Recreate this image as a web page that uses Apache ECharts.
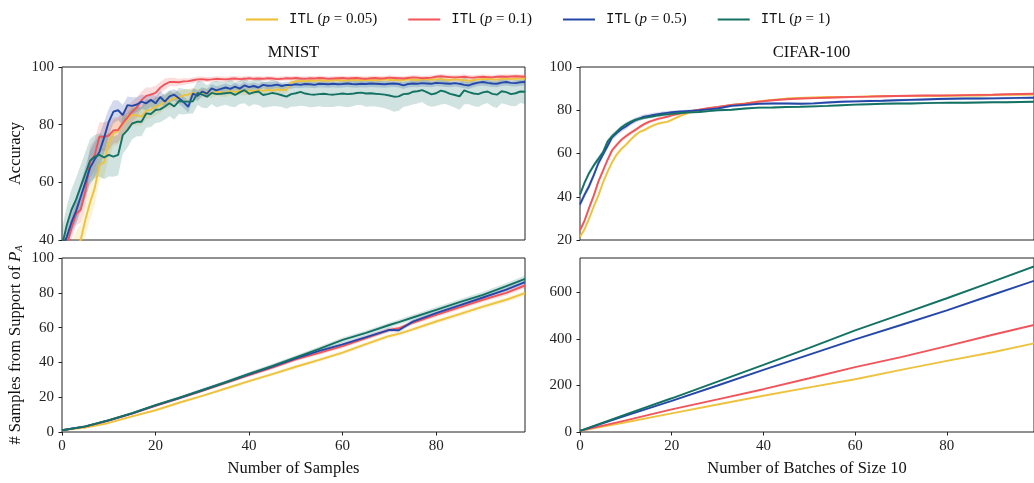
<!DOCTYPE html>
<html><head><meta charset="utf-8">
<script src="https://cdn.jsdelivr.net/npm/echarts@6/dist/echarts.min.js"></script>
<style>html,body{margin:0;padding:0;background:#fff}#c{width:1034px;height:483px}</style>
</head><body><div id="c"></div>
<script>
// ---------- labels & ticks ----------
const seriesNames = ['ITL (p = 0.05)', 'ITL (p = 0.1)', 'ITL (p = 0.5)', 'ITL (p = 1)'];
const pLabels = ['0.05', '0.1', '0.5', '1'];
const panelTitles = ['MNIST', 'CIFAR-100'];
const xTicks = [0, 20, 40, 60, 80];
const mnistAccTicks = [40, 60, 80, 100];
const cifarAccTicks = [20, 40, 60, 80, 100];
const mnistSampTicks = [0, 20, 40, 60, 80, 100];
const cifarSampTicks = [0, 200, 400, 600];

// ---------- MNIST accuracy (x = 0..99) ----------
const mnistAccX = [0,1,2,3,4,5,6,7,8,9,10,11,12,13,14,15,16,17,18,19,20,21,22,23,24,25,26,27,28,29,30,31,32,33,34,35,36,37,38,39,40,41,42,43,44,45,46,47,48,49,50,51,52,53,54,55,56,57,58,59,60,61,62,63,64,65,66,67,68,69,70,71,72,73,74,75,76,77,78,79,80,81,82,83,84,85,86,87,88,89,90,91,92,93,94,95,96,97,98,99];
const mnistAccY = [28,32,35,38,40,47,53,58,66,67,73.5,77,77.8,80.2,82,83.4,83.2,82.8,84.8,85.2,86.2,86.8,88,88.4,89.2,89.4,90.2,90.4,91,90.5,91,91.2,90.8,91.5,91.2,91,91.6,91.3,91.8,91.5,91.9,91.6,92,91.7,92.1,91.8,92.2,92,92.1,94.6,95,95.2,95.1,95.3,95.2,95.4,95.3,95.2,95.4,95.5,95.3,95.4,95.6,95.4,95.5,95.6,95.5,95.4,95.6,95.7,95.5,95.6,95.4,95.5,95.7,95.6,95.5,95.7,95.8,95.6,95.7,95.8,95.6,95.5,95.7,95.6,95.4,95.2,95.5,95.7,95.8,95.9,95.7,95.6,95.9,96,95.8,95.9,96.1,96];
const mnistAccR = [34,38,44,49,50.5,57,67,69.5,75.8,75.8,76.2,78,78.2,80.5,82.5,84.5,86,88.5,90,90.4,91,92.8,94,94.8,94.8,94.7,95,95.1,95.4,95.7,95.8,95.6,95.7,95.9,95.8,95.7,95.9,96,95.8,95.9,96.1,95.9,96,95.9,96.1,96,95.8,95.9,96.1,96,96.2,96,95.9,96.1,96,96.2,96.1,95.9,96,96.1,96.2,96,96.1,96.2,96,95.9,96.1,96.2,96,96.1,96.3,96.2,96.1,96,96.2,96.4,96.3,96.1,96.2,96.3,96.6,96.8,96.6,96.5,96.4,96.5,96.6,96.4,96.3,96.5,96.6,96.5,96.4,96.6,96.7,96.6,96.7,96.8,96.7,96.6];
const mnistAccB = [37,41,46,50,55,60,65,68,70.5,75.5,81,84.5,85,83.3,86.8,86.5,87,88,87.4,88.6,87.4,89.6,88,89.8,90.4,89.2,87.8,86.2,90.8,90,91.5,90.8,92.6,91.9,92.4,92.9,92.4,93.2,92.5,93.6,93,93.4,92.9,93.8,93.5,93.6,93.9,93.4,93.8,93.7,94,93.8,94.1,94,93.8,94.2,94.1,94,94.2,94,94.1,94.3,94.1,94,94.2,94.1,94.3,94.2,94.1,94,94.2,94.3,94.1,93.6,94.1,94.3,94.2,94.4,94.3,94.2,94.5,94.4,94.3,94.2,94.4,94.2,93.8,93.6,94.2,94.6,94.8,94.5,94.3,94.2,94.6,94.8,94.5,94.4,94.7,94.8];
const mnistAccG = [38,45,50.4,54,58.5,63,67.5,68.9,69.5,68.6,69.5,68.9,69.5,76.4,78.1,80.4,81,81,83.9,83.7,85.1,85.3,86.3,87.4,86.3,88.2,88,88,88.1,91,90.4,89.7,91,90.6,90.7,90.9,91.1,90.3,91.2,92,90.7,91.2,91.5,90.3,90.6,91,90.7,90.2,89.7,90.6,90.9,91.4,90.8,90.5,90.4,90.6,90.7,90.5,90.4,90.6,90.8,90.6,90.7,91,91.1,90.8,90.9,90.7,90.6,90.4,90.1,89.7,89.8,90.6,90.7,91.4,91.6,92,91.3,90.5,90.9,91.8,91.4,90.7,90.3,89.8,91.9,91.3,90.8,90.6,91.2,91.5,90.7,90.4,91.6,91.3,90.6,90.9,91.5,91.4];
// half widths of the shaded bands
const mnistAccWY = [4,4,4.5,5,5.5,6,6,6,5.5,5,5,4.5,4.5,4,4,3.5,3.5,3,3,3,3,2.8,2.6,2.5,2.4,2.2,2,2,1.8,1.8,1.6,1.6,1.6,1.5,1.5,1.5,1.5,1.4,1.4,1.4,1.4,1.4,1.3,1.3,1.3,1.3,1.3,1.3,1.3,1.2,1,1,1,1,1,1,1,1,1,1,1,1,1,1,1,1,1,1,1,1,1,1,1,1,1,1,1,1,1,1,1,1,1,1,1,1,1,1,1,1,1,1,1,1,1,1,1,1,1,1];
const mnistAccWR = [3,3.5,4,4,4.5,5,5.5,5.5,5,5,5,4.5,4.5,4,4,3.5,3.5,3,3,2.5,2.5,2,2,1.5,1.5,1.2,1.2,1,1,1,0.9,0.9,0.9,0.9,0.9,0.9,0.9,0.9,0.9,0.9,0.8,0.8,0.8,0.8,0.8,0.8,0.8,0.8,0.8,0.8,0.8,0.8,0.8,0.8,0.8,0.8,0.8,0.8,0.8,0.8,0.8,0.8,0.8,0.8,0.8,0.8,0.8,0.8,0.8,0.8,0.8,0.8,0.8,0.8,0.8,0.8,0.8,0.8,0.8,0.8,0.8,0.8,0.8,0.8,0.8,0.8,0.8,0.8,0.8,0.8,0.8,0.8,0.8,0.8,0.8,0.8,0.8,0.8,0.8,0.8];
const mnistAccWB = [3,3.5,4,4.5,5,5.5,6,6,6,5.5,4.5,4,3.5,3.5,3,3,2.5,2.5,2.5,2.5,2.5,2.2,2,2,2,2,2,2,1.8,1.8,1.5,1.5,1.5,1.4,1.4,1.4,1.3,1.3,1.3,1.3,1.2,1.2,1.2,1.2,1.2,1.2,1.2,1.2,1.2,1.2,1.2,1.2,1.2,1.2,1.2,1.2,1.2,1.2,1.2,1.2,1.2,1.2,1.2,1.2,1.2,1.2,1.2,1.2,1.2,1.2,1.2,1.2,1.2,1.2,1.2,1.2,1.2,1.2,1.2,1.2,1.2,1.2,1.2,1.2,1.2,1.2,1.2,1.2,1.2,1.2,1.2,1.2,1.2,1.2,1.2,1.2,1.2,1.2,1.2,1.2];
const mnistAccWG = [6,6.5,7,7.5,7.5,7.5,7.5,7.5,7.5,7.5,7.5,7,7,6.5,6,5.5,5,5,5,4.5,4.5,4.5,4.5,4.5,4.5,4.5,4.5,4.2,4.2,4.2,4.5,4,3.8,4.6,4.2,4,4.8,4.3,4,4.6,4.4,4.1,4.7,4.4,4.5,4.6,4.3,4.1,4.2,4.4,4.6,4.8,4.4,4.5,4.3,4.2,4.6,4.4,4.3,4.1,4.5,4.6,4.4,4.2,4.3,4.6,4.5,4.4,4.6,4.7,4.9,5.2,5,4.5,4.2,4.4,4.3,4.1,4.6,4.3,4.4,4.8,4.2,4.1,4.4,4.6,4.8,4.2,4.3,4.5,4.2,4,4.4,4.6,4.2,4.3,4.1,4.5,4,4.2];

// ---------- MNIST samples from support ----------
const mnistSampX = [0,5,10,15,20,25,30,35,40,45,50,55,60,65,70,72,75,80,85,90,95,99];
const mnistSampY = [1,2.6,5.2,9,12.5,16.8,20.8,25,29.2,33.3,37.5,41.5,45.6,50.5,55.2,56.4,59,63.5,67.7,72.1,76,79.8];
const mnistSampR = [1,3.1,6.6,10.6,15.1,19.3,23.7,28.2,32.7,37,41.7,45.5,49.4,54,58.7,59.6,62.8,67.3,71.6,76,80,84.2];
const mnistSampB = [1,3.2,6.7,10.7,15.3,19.5,24,28.5,33.2,37.6,42.3,46.6,50.4,54.5,58.7,58.5,63.4,68.3,72.8,77.3,81.8,86.2];
const mnistSampG = [1,3.2,6.8,10.8,15.4,19.6,24.1,28.6,33.4,38,42.9,47.8,52.9,57,61.5,63.2,65.8,70.2,74.6,78.8,83.8,88];
const mnistSampWY = [0.3,0.4,0.5,0.6,0.7,0.8,0.8,0.9,1,1,1.1,1.1,1.2,1.2,1.3,1.3,1.3,1.4,1.4,1.5,1.5,1.6];
const mnistSampWR = [0.3,0.4,0.5,0.6,0.7,0.8,0.8,0.9,1,1,1.1,1.1,1.2,1.2,1.3,1.3,1.3,1.4,1.4,1.5,1.5,1.6];
const mnistSampWB = [0.3,0.4,0.5,0.6,0.7,0.8,0.8,0.9,1,1,1.1,1.1,1.2,1.2,1.3,1.3,1.3,1.4,1.4,1.5,1.5,1.6];
const mnistSampWG = [0.3,0.5,0.6,0.7,0.8,0.9,1,1,1.1,1.2,1.2,1.3,1.4,1.4,1.5,1.5,1.6,1.7,1.7,1.8,1.9,2];

// ---------- CIFAR-100 accuracy ----------
const cifarAccX = [0,1,2,3,4,5,6,7,8,9,10,11,12,13,14,15,16,17,18,19,20,22,24,26,28,30,33,36,39,42,45,48,51,54,57,60,63,66,69,72,75,78,81,84,87,90,93,96,99];
const cifarAccY = [21.5,25,30,35.5,40.5,46.5,51.5,56,59.5,62,64,66.3,68.3,70,70.8,72,73,73.8,74.3,74.6,75.5,77.5,79,80,80.8,81.3,82.4,83.2,84.1,84.8,85.4,85.7,85.9,86.1,86.1,86.2,86.4,86.5,86.6,86.6,86.6,86.6,86.7,86.8,86.8,87,87.1,87.2,87.3];
const cifarAccR = [24.5,29,35,40.5,47,52,57,61.5,64,66.3,68,69.5,70.8,72.3,73.6,74.6,75.3,76,76.5,77,77.6,78.6,79.4,80.3,81,81.5,82.4,83,84,84.6,85.1,85.4,85.6,85.8,86,86.2,86.3,86.5,86.6,86.7,86.8,86.8,86.9,87,87.1,87.2,87.4,87.5,87.6];
const cifarAccB = [36.5,41,45,50,55.5,59.5,63.5,67.5,69.5,71.2,72.5,74,75.3,76.2,77,77.4,77.8,78.2,78.5,78.8,79.1,79.4,79.7,80,80.4,80.8,82,82.5,83,83.1,83.1,83,83.2,83.6,83.9,84.1,84.3,84.4,84.6,84.8,85,85.2,85.3,85.4,85.4,85.5,85.6,85.7,85.8];
const cifarAccG = [41,46.5,51,54.5,57.5,60.5,65.5,68,70,72,73.5,74.6,75.5,76,76.5,76.9,77.2,77.6,77.9,78.1,78.3,78.7,79,79.2,79.6,80,80.2,80.8,81.2,81.3,81.5,81.6,81.8,82,82.3,82.6,82.8,83,83.1,83.1,83.3,83.4,83.5,83.5,83.6,83.7,83.7,83.8,83.9];
const cifarAccWY = [1.2,1.2,1.2,1.2,1.2,1.2,1.2,1.1,1.1,1,1,0.9,0.9,0.8,0.8,0.8,0.7,0.7,0.7,0.6,0.6,0.6,0.6,0.5,0.5,0.5,0.5,0.5,0.5,0.5,0.5,0.5,0.5,0.5,0.5,0.5,0.5,0.5,0.5,0.5,0.5,0.5,0.5,0.5,0.5,0.5,0.5,0.5,0.5];
const cifarAccWR = [1.2,1.2,1.2,1.2,1.2,1.2,1.2,1.1,1.1,1,1,0.9,0.9,0.8,0.8,0.8,0.7,0.7,0.7,0.6,0.6,0.6,0.6,0.5,0.5,0.5,0.5,0.5,0.5,0.5,0.5,0.5,0.5,0.5,0.5,0.5,0.5,0.5,0.5,0.5,0.5,0.5,0.5,0.5,0.5,0.5,0.5,0.5,0.5];
const cifarAccWB = [1.6,1.6,1.6,1.6,1.5,1.5,1.5,1.4,1.4,1.3,1.3,1.2,1.2,1.1,1.1,1,1,0.9,0.9,0.8,0.8,0.7,0.7,0.6,0.6,0.6,0.6,0.6,0.6,0.6,0.6,0.6,0.6,0.6,0.6,0.6,0.6,0.6,0.6,0.6,0.6,0.6,0.6,0.6,0.6,0.6,0.6,0.6,0.6];
const cifarAccWG = [1.2,1.2,1.2,1.2,1.2,1.2,1.2,1.1,1.1,1,1,0.9,0.9,0.8,0.8,0.8,0.7,0.7,0.7,0.6,0.6,0.6,0.6,0.5,0.5,0.5,0.5,0.5,0.5,0.5,0.5,0.5,0.5,0.5,0.5,0.5,0.5,0.5,0.5,0.5,0.5,0.5,0.5,0.5,0.5,0.5,0.5,0.5,0.5];

// ---------- CIFAR-100 samples from support ----------
const cifarSampX = [0,10,20,30,40,50,60,70,80,90,99];
const cifarSampY = [5,42,80,118,156,192,227,267,306,343,381];
const cifarSampR = [5,50,97,140,184,231,279,322,369,418,460];
const cifarSampB = [5,70,134,200,267,333,398,460,523,590,650];
const cifarSampG = [5,76,145,217,289,362,437,506,575,646,712];

// ---------- styling ----------
const colors = ['#EDC23E', '#F1545B', '#2548A8', '#137263'];
const SERIF = 'Liberation Serif';
const grids = [
  {left: 62, top: 67, width: 463, height: 173},
  {left: 580, top: 67, width: 463, height: 173},
  {left: 62, top: 258, width: 463, height: 174},
  {left: 580, top: 258, width: 463, height: 174}
];

function xAxisFor(g, bottom) {
  return {
    type: 'value', gridIndex: g, min: 0, max: 99,
    axisLine: {show: false}, splitLine: {show: false},
    axisTick: {show: bottom, customValues: xTicks, length: 3.5, lineStyle: {color: '#222', width: 1}},
    axisLabel: {show: bottom, customValues: xTicks, fontFamily: SERIF, fontSize: 15, color: '#222', margin: 7},
    name: bottom ? (g === 2 ? 'Number of Samples' : 'Number of Batches of Size 10') : '',
    nameLocation: 'middle', nameGap: 28,
    nameTextStyle: {fontFamily: SERIF, fontSize: 16.5, color: '#111'}
  };
}
function yAxisFor(g, min, max, ticks, name) {
  return {
    type: 'value', gridIndex: g, min: min, max: max,
    axisLine: {show: false}, splitLine: {show: false},
    axisTick: {show: true, customValues: ticks, length: 3.5, lineStyle: {color: '#222', width: 1}},
    axisLabel: {customValues: ticks, fontFamily: SERIF, fontSize: 15, color: '#222', margin: 8},
    name: name || '', nameLocation: 'middle', nameRotate: 90, nameGap: 38,
    nameTextStyle: {fontFamily: SERIF, fontSize: 16.5, color: '#111',
      rich: {
        t: {fontFamily: SERIF, fontSize: 16.5, color: '#111'},
        c: {fontFamily: SERIF, fontSize: 16.5, fontStyle: 'italic', color: '#111'},
        s: {fontFamily: SERIF, fontSize: 10, fontStyle: 'italic', color: '#111', padding: [7, 0, 0, 0]}
      }}
  };
}

function pairs(xs, ys) { return xs.map((x, i) => [x, ys[i]]); }

function lineSeries(g, xs, ys, k, width) {
  return {
    name: seriesNames[k], type: 'line', xAxisIndex: g, yAxisIndex: g,
    data: pairs(xs, ys), symbol: 'none', clip: true, z: 3 + k,
    lineStyle: {color: colors[k], width: width}, itemStyle: {color: colors[k]},
    emphasis: {disabled: true}, animation: false
  };
}
function bandSeries(g, xs, ys, ws, k, op) {
  return {
    type: 'custom', xAxisIndex: g, yAxisIndex: g, silent: true, clip: true, z: 1,
    data: [[xs[0], ys[0]]], animation: false,
    renderItem: function (params, api) {
      const pts = [];
      for (let i = 0; i < xs.length; i++) pts.push(api.coord([xs[i], ys[i] + ws[i]]));
      for (let i = xs.length - 1; i >= 0; i--) pts.push(api.coord([xs[i], ys[i] - ws[i]]));
      return {type: 'polygon', shape: {points: pts}, style: {fill: colors[k], opacity: op}};
    }
  };
}

const series = [];
const mA = [mnistAccY, mnistAccR, mnistAccB, mnistAccG];
const mAW = [mnistAccWY, mnistAccWR, mnistAccWB, mnistAccWG];
const mS = [mnistSampY, mnistSampR, mnistSampB, mnistSampG];
const mSW = [mnistSampWY, mnistSampWR, mnistSampWB, mnistSampWG];
const cA = [cifarAccY, cifarAccR, cifarAccB, cifarAccG];
const cAW = [cifarAccWY, cifarAccWR, cifarAccWB, cifarAccWG];
const cS = [cifarSampY, cifarSampR, cifarSampB, cifarSampG];
for (let k = 0; k < 4; k++) {
  series.push(bandSeries(0, mnistAccX, mA[k], mAW[k], k, 0.2));
  series.push(bandSeries(1, cifarAccX, cA[k], cAW[k], k, 0.2));
  series.push(bandSeries(2, mnistSampX, mS[k], mSW[k], k, 0.18));
}
for (let k = 0; k < 4; k++) {
  series.push(lineSeries(0, mnistAccX, mA[k], k, 1.9));
  series.push(lineSeries(1, cifarAccX, cA[k], k, 1.9));
  series.push(lineSeries(2, mnistSampX, mS[k], k, 1.9));
  series.push(lineSeries(3, cifarSampX, cS[k], k, 1.9));
}

const option = {
  backgroundColor: '#fff',
  animation: false,
  title: [
    {text: panelTitles[0], left: 293.5, top: 44, textAlign: 'center', padding: 0,
     textStyle: {fontFamily: SERIF, fontSize: 16.5, fontWeight: 'normal', color: '#111'}},
    {text: panelTitles[1], left: 811.5, top: 44, textAlign: 'center', padding: 0,
     textStyle: {fontFamily: SERIF, fontSize: 16.5, fontWeight: 'normal', color: '#111'}}
  ],
  legend: {
    data: seriesNames, left: 241, top: 7, icon: 'rect', itemWidth: 32, itemHeight: 2.2,
    itemGap: 31, selectedMode: false,
    formatter: function (name) {
      const i = seriesNames.indexOf(name);
      return '{m|ITL} {t|(}{i|p}{t| = ' + pLabels[i] + ')}';
    },
    textStyle: {padding: [0, 0, 0, 6], rich: {
      m: {fontFamily: 'Liberation Mono', fontSize: 14, color: '#111'},
      t: {fontFamily: SERIF, fontSize: 15, color: '#111'},
      i: {fontFamily: SERIF, fontSize: 15, fontStyle: 'italic', color: '#111'}
    }}
  },
  grid: grids.map(g => Object.assign({show: true, borderColor: '#222', borderWidth: 1, backgroundColor: 'transparent'}, g)),
  xAxis: [xAxisFor(0, false), xAxisFor(1, false), xAxisFor(2, true), xAxisFor(3, true)],
  yAxis: [
    yAxisFor(0, 40, 100, mnistAccTicks, 'Accuracy'),
    yAxisFor(1, 20, 100, cifarAccTicks, ''),
    yAxisFor(2, 0, 100, mnistSampTicks, '{t|# Samples from Support of }{c|P}{s|A}'),
    yAxisFor(3, 0, 748, cifarSampTicks, '')
  ],
  series: series
};
const chart = echarts.init(document.getElementById('c'), null, {renderer: 'canvas'});
chart.setOption(option);
</script></body></html>
